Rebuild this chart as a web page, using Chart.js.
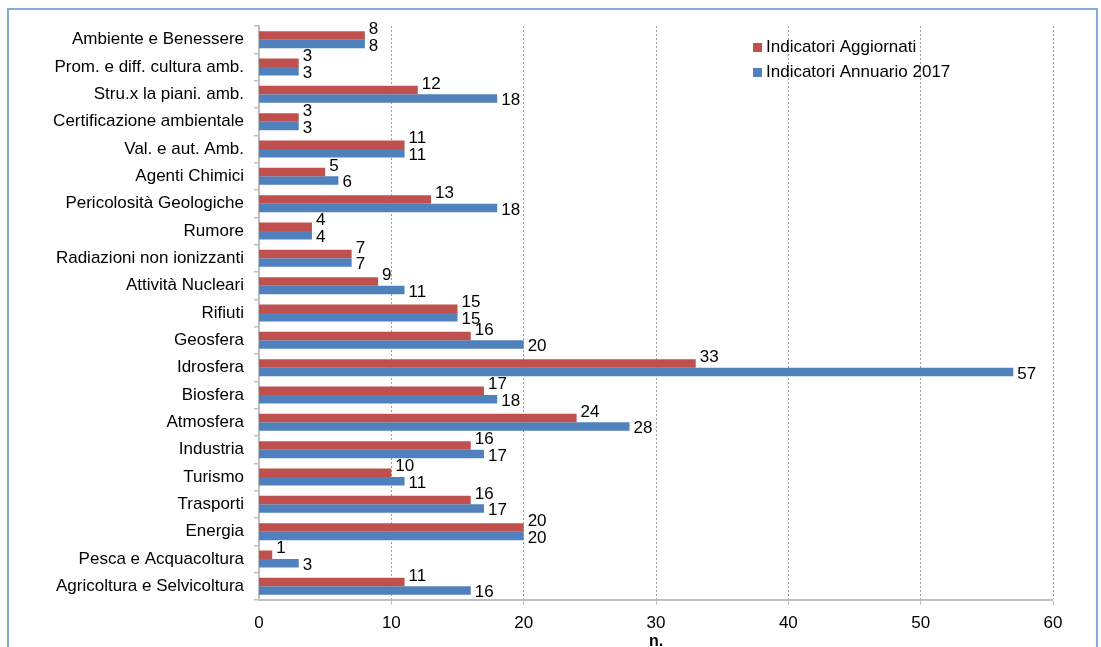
<!DOCTYPE html>
<html lang="it">
<head>
  <meta charset="UTF-8" />
  <title>Indicatori per tema</title>
  <script src="https://cdn.jsdelivr.net/npm/chart.js"></script>
  <style>
    html, body { margin: 0; padding: 0; background: #fff; overflow: hidden; }
    #wrap { position: relative; width: 1101px; height: 647px; }
    #frame { position: absolute; left: 7px; top: 8px; width: 1091px; height: 700px; border: 2px solid #86a9d9; box-sizing: border-box; }
    #chart { position: absolute; left: 0; top: 0; }
  </style>
</head>
<body>
  <div id="wrap">
    <div id="frame"></div>
    <canvas id="chart" width="1101" height="647"></canvas>
  </div>

  <script>
    const categories = [
      'Ambiente e Benessere', 'Prom. e diff. cultura amb.', 'Stru.x la piani. amb.',
      'Certificazione ambientale', 'Val. e aut. Amb.', 'Agenti Chimici',
      'Pericolosità Geologiche', 'Rumore', 'Radiazioni non ionizzanti',
      'Attività Nucleari', 'Rifiuti', 'Geosfera', 'Idrosfera', 'Biosfera',
      'Atmosfera', 'Industria', 'Turismo', 'Trasporti', 'Energia',
      'Pesca e Acquacoltura', 'Agricoltura e Selvicoltura'
    ];
    const aggiornati = [8, 3, 12, 3, 11, 5, 13, 4, 7, 9, 15, 16, 33, 17, 24, 16, 10, 16, 20, 1, 11];
    const annuario2017 = [8, 3, 18, 3, 11, 6, 18, 4, 7, 11, 15, 20, 57, 18, 28, 17, 11, 17, 20, 3, 16];
    const seriesNames = ['Indicatori Aggiornati', 'Indicatori Annuario 2017'];
    const seriesColors = ['#c0504d', '#4f81bd'];

    const FONT = '"Liberation Sans", Arial, sans-serif';

    // etichette valori alla fine delle barre + legenda interna
    const labelsPlugin = {
      id: 'valueLabels',
      afterDatasetsDraw(chart) {
        const c = chart.ctx;
        c.save();
        c.font = '17px ' + FONT;
        c.fillStyle = '#000';
        c.textBaseline = 'middle';
        c.textAlign = 'left';
        chart.data.datasets.forEach((ds, di) => {
          chart.getDatasetMeta(di).data.forEach((bar, i) => {
            const dy = di === 0 ? -6 : 2;
            c.fillText(String(ds.data[i]), bar.x + 4, bar.y + dy);
          });
        });

        // legenda
        const lx = 753, ly = [47, 72];
        seriesNames.forEach((name, i) => {
          c.fillStyle = seriesColors[i];
          c.fillRect(lx, ly[i] - 4, 9, 9);
          c.fillStyle = '#000';
          c.fillText(name, lx + 13, ly[i]);
        });
        c.restore();
      }
    };

    new Chart(document.getElementById('chart'), {
      type: 'bar',
      data: {
        labels: categories,
        datasets: [
          { label: seriesNames[0], data: aggiornati, backgroundColor: seriesColors[0] },
          { label: seriesNames[1], data: annuario2017, backgroundColor: seriesColors[1] }
        ]
      },
      options: {
        indexAxis: 'y',
        responsive: false,
        animation: false,
        devicePixelRatio: 1,
        layout: { padding: { left: 0, right: 48, top: 26, bottom: 0 } },
        datasets: { bar: { categoryPercentage: 0.62, barPercentage: 1 } },
        plugins: {
          legend: { display: false },
          tooltip: { enabled: false }
        },
        scales: {
          x: {
            min: 0,
            max: 60,
            ticks: { stepSize: 10, color: '#000', font: { family: FONT, size: 17 }, padding: 8 },
            grid: {
              color: '#9a9a9a',
              tickBorderDash: [],
              tickColor: '#bfbfbf',
              tickLength: 5,
              lineWidth: ctx => ctx.tick && ctx.tick.value === 0 ? 0 : 1
            },
            border: { display: true, color: '#bfbfbf', width: 2, dash: [2, 2] },
            title: { display: true, text: 'n.', color: '#000', font: { family: FONT, size: 16, weight: 'bold' }, padding: { top: 0, bottom: -4 } },
            afterFit(scale) { scale.height = 47; }
          },
          y: {
            ticks: { color: '#000', font: { family: FONT, size: 17 }, padding: 10 },
            grid: { drawOnChartArea: false, tickColor: '#bfbfbf', tickLength: 5, offset: true, lineWidth: 1.5 },
            border: { display: true, color: '#bfbfbf', width: 2 },
            afterFit(scale) { scale.width = 259; }
          }
        }
      },
      plugins: [labelsPlugin]
    });
  </script>
</body>
</html>
